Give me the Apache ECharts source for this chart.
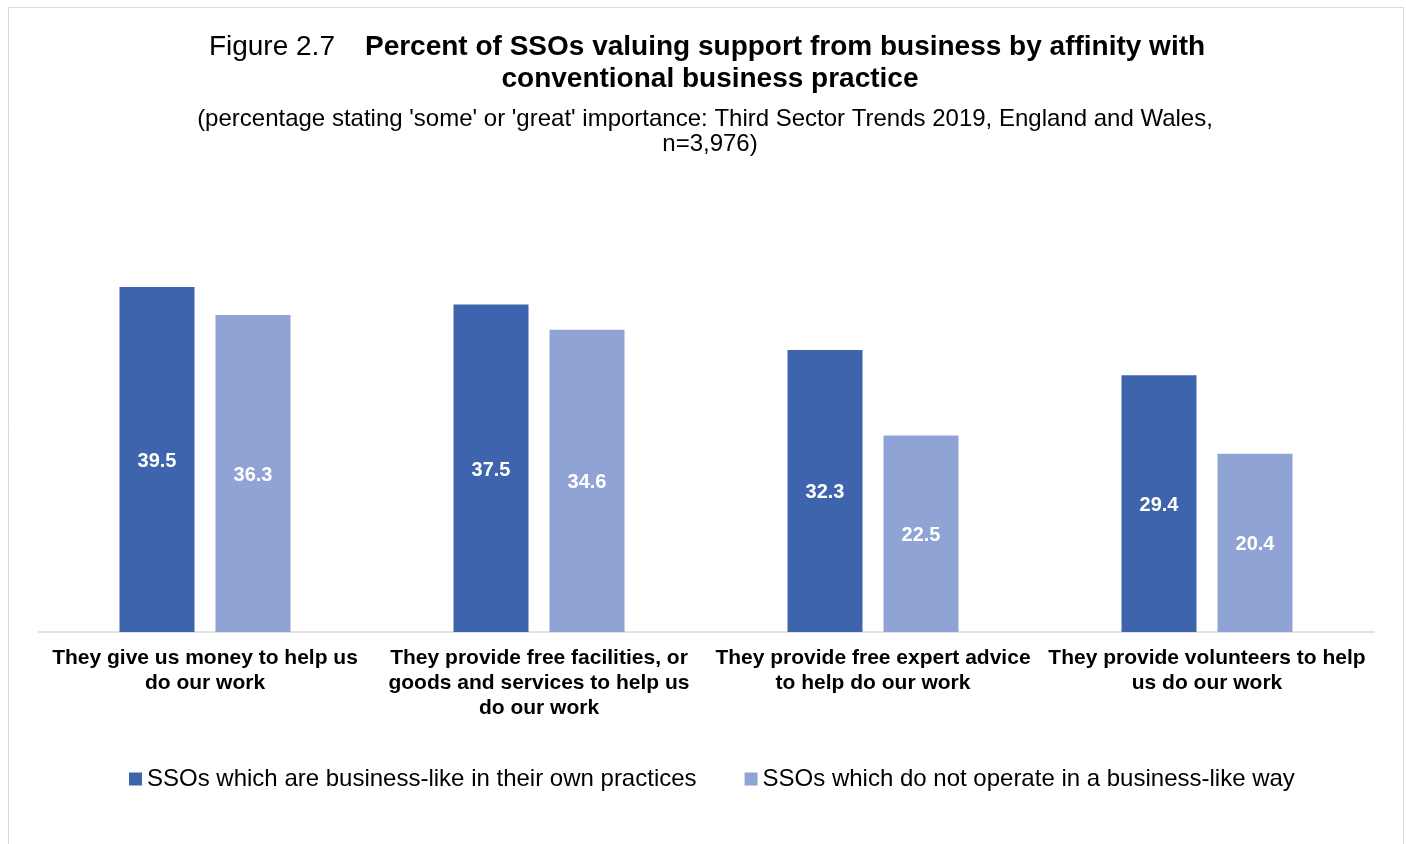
<!DOCTYPE html>
<html>
<head>
<meta charset="utf-8">
<script src="https://cdn.jsdelivr.net/npm/echarts@6/dist/echarts.min.js"></script>
<style>
  html, body { margin: 0; padding: 0; background: #fff; }
  #chart { width: 1406px; height: 844px; }
</style>
</head>
<body>
<div id="chart"></div>
<script>
// Support types asked about in the survey
const categories = [
  'They give us money to help us\ndo our work',
  'They provide free facilities, or\ngoods and services to help us\ndo our work',
  'They provide free expert advice\nto help do our work',
  'They provide volunteers to help\nus do our work'
];
const seriesNames = [
  'SSOs which are business-like in their own practices',
  'SSOs which do not operate in a business-like way'
];
const businessLike = [39.5, 37.5, 32.3, 29.4];
const notBusinessLike = [36.3, 34.6, 22.5, 20.4];

const FONT = '"Liberation Sans", Arial, sans-serif';
const DARK = '#3d64ad';
const LIGHT = '#8fa4d4';

const chart = echarts.init(document.getElementById('chart'));

const valueLabel = {
  show: true,
  position: 'inside',
  offset: [0, 2],
  color: '#ffffff',
  fontFamily: FONT,
  fontWeight: 'bold',
  fontSize: 20,
  formatter: p => p.value.toFixed(1)
};

chart.setOption({
  animation: false,
  textStyle: { fontFamily: FONT },
  graphic: [{
    type: 'rect',
    shape: { x: 8.5, y: 7.5, width: 1395, height: 860 },
    style: { fill: 'none', stroke: '#d9d9d9', lineWidth: 1 },
    silent: true
  }],
  title: [
    {
      text: '{n|Figure 2.7}      {b|Percent of SSOs valuing support from business by affinity with}',
      left: 702, top: 28, textAlign: 'center',
      textStyle: {
        rich: {
          n: { fontFamily: FONT, fontSize: 28, fontWeight: 'normal', color: '#000' },
          b: { fontFamily: FONT, fontSize: 28, fontWeight: 'bold', color: '#000' }
        }
      }
    },
    {
      text: 'conventional business practice',
      left: 705, top: 60, textAlign: 'center',
      textStyle: { fontFamily: FONT, fontSize: 28, fontWeight: 'bold', color: '#000' }
    },
    {
      text: "(percentage stating 'some' or 'great' importance: Third Sector Trends 2019, England and Wales,",
      left: 700, top: 102, textAlign: 'center',
      textStyle: { fontFamily: FONT, fontSize: 24, fontWeight: 'normal', color: '#000' }
    },
    {
      text: 'n=3,976)',
      left: 705, top: 127, textAlign: 'center',
      textStyle: { fontFamily: FONT, fontSize: 24, fontWeight: 'normal', color: '#000' }
    }
  ],
  legend: {
    data: seriesNames,
    orient: 'horizontal',
    left: 124,
    top: 762,
    itemWidth: 13, itemHeight: 13,
    itemGap: 48,
    icon: 'rect',
    textStyle: { fontFamily: FONT, fontSize: 24, color: '#000' }
  },
  grid: { left: 38, right: 32, top: 239, bottom: 212 },
  xAxis: {
    type: 'category',
    data: categories,
    axisLine: { show: true, lineStyle: { color: '#d9d9d9', width: 1.5 } },
    axisTick: { show: false },
    axisLabel: {
      interval: 0,
      margin: 14,
      color: '#000',
      fontFamily: FONT,
      fontWeight: 'bold',
      fontSize: 21,
      lineHeight: 25,
      align: 'center'
    }
  },
  yAxis: {
    type: 'value',
    min: 0, max: 45,
    show: false,
    splitLine: { show: false }
  },
  series: [
    {
      name: seriesNames[0],
      type: 'bar',
      data: businessLike,
      barWidth: 75,
      barGap: '28%',
      itemStyle: { color: DARK },
      label: valueLabel
    },
    {
      name: seriesNames[1],
      type: 'bar',
      data: notBusinessLike,
      barWidth: 75,
      itemStyle: { color: LIGHT },
      label: valueLabel
    }
  ]
});
</script>
</body>
</html>
